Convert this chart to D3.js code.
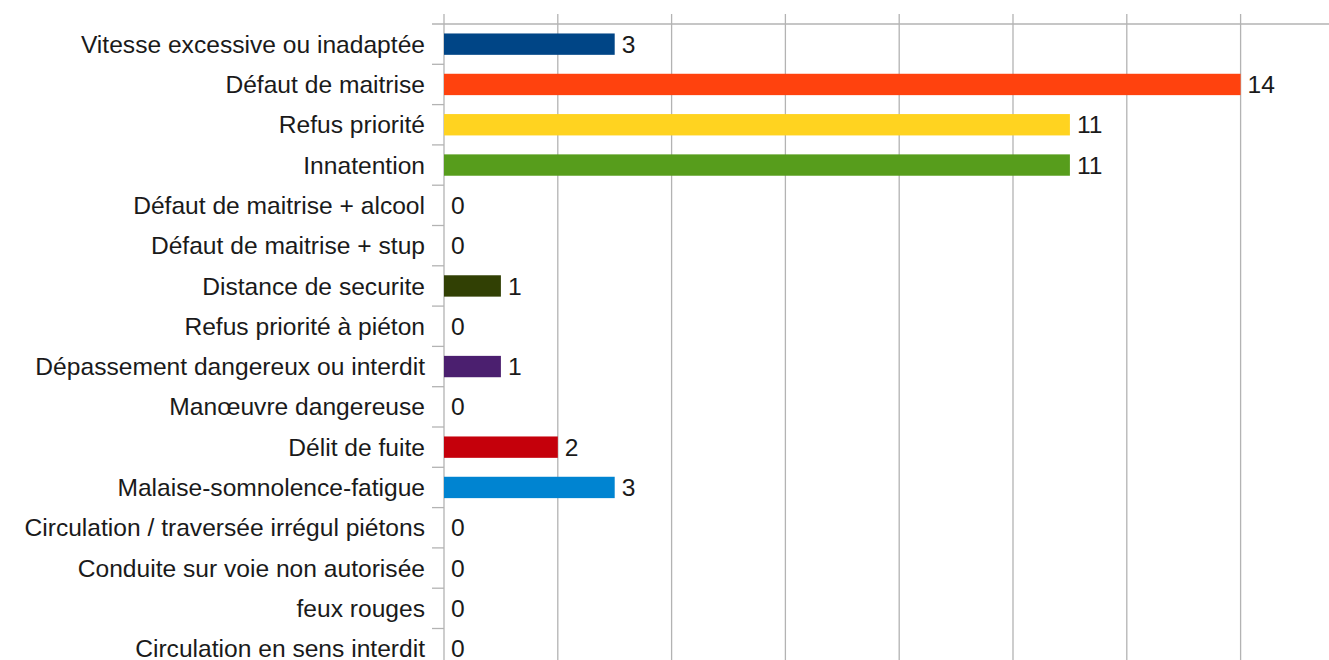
<!DOCTYPE html>
<html><head><meta charset="utf-8">
<script src="https://cdn.jsdelivr.net/npm/d3@7"></script>
<style>html,body{margin:0;padding:0;background:#fff;overflow:hidden}</style>
</head><body>
<svg id="c" width="1329" height="660"></svg>
<script>
const categories = ["Vitesse excessive ou inadaptée ","Défaut de maitrise","Refus priorité","Innatention","Défaut de maitrise + alcool","Défaut de maitrise + stup","Distance de securite","Refus priorité à piéton","Dépassement dangereux ou interdit","Manœuvre dangereuse","Délit de fuite","Malaise-somnolence-fatigue","Circulation / traversée irrégul piétons","Conduite sur voie non autorisée","feux rouges","Circulation en sens interdit"];
const values = [3,14,11,11,0,0,1,0,1,0,2,3,0,0,0,0];
const colors = ["#004586","#ff420e","#ffd320","#579d1c","#7e0021","#83caff","#314004","#aecf00","#4b1f6f","#ff950e","#c5000b","#0084d1","#004586","#ff420e","#ffd320","#579d1c"];
const xTicks = [0,2,4,6,8,10,12,14,16];

const svg = d3.select("#c");
const plotLeft = 444, plotTop = 24, bandH = 40.3;
const x = d3.scaleLinear().domain([0,16]).range([plotLeft, plotLeft + 16*56.9]);
const y = d3.scaleBand().domain(categories).range([plotTop, plotTop + bandH*categories.length]).paddingInner(0.47).paddingOuter(0.235);
const yb = d3.scaleBand().domain(categories).range([plotTop, plotTop + bandH*categories.length]);
const grid = "#b3b3b3";
const font = "Liberation Sans, Arial, sans-serif";
const fs = 24.6;

svg.append("g").selectAll("line").data(xTicks).join("line")
  .attr("x1", d => x(d)).attr("x2", d => x(d))
  .attr("y1", plotTop - 10).attr("y2", plotTop + bandH*categories.length)
  .attr("stroke", grid).attr("stroke-width", 1.3);
svg.append("line").attr("x1", plotLeft - 12).attr("x2", 1329).attr("y1", plotTop).attr("y2", plotTop)
  .attr("stroke", grid).attr("stroke-width", 1.3);
svg.append("g").selectAll("line").data(categories.slice(1)).join("line")
  .attr("x1", plotLeft - 12).attr("x2", plotLeft)
  .attr("y1", d => yb(d)).attr("y2", d => yb(d))
  .attr("stroke", grid).attr("stroke-width", 1.3);

svg.append("g").selectAll("rect").data(values).join("rect")
  .attr("x", x(0)).attr("y", (d,i) => y(categories[i]))
  .attr("width", d => x(d) - x(0)).attr("height", y.bandwidth())
  .attr("fill", (d,i) => colors[i]);

svg.append("g").selectAll("text").data(categories).join("text")
  .attr("x", plotLeft - 19).attr("y", d => yb(d) + bandH/2)
  .attr("dy", "0.35em").attr("text-anchor", "end")
  .attr("font-family", font).attr("font-size", fs).attr("fill", "#1a1a1a")
  .text(d => d);

svg.append("g").selectAll("text").data(values).join("text")
  .attr("x", d => x(d) + 7).attr("y", (d,i) => yb(categories[i]) + bandH/2)
  .attr("dy", "0.35em")
  .attr("font-family", font).attr("font-size", fs).attr("fill", "#1a1a1a")
  .text(d => d);
</script>
</body></html>
